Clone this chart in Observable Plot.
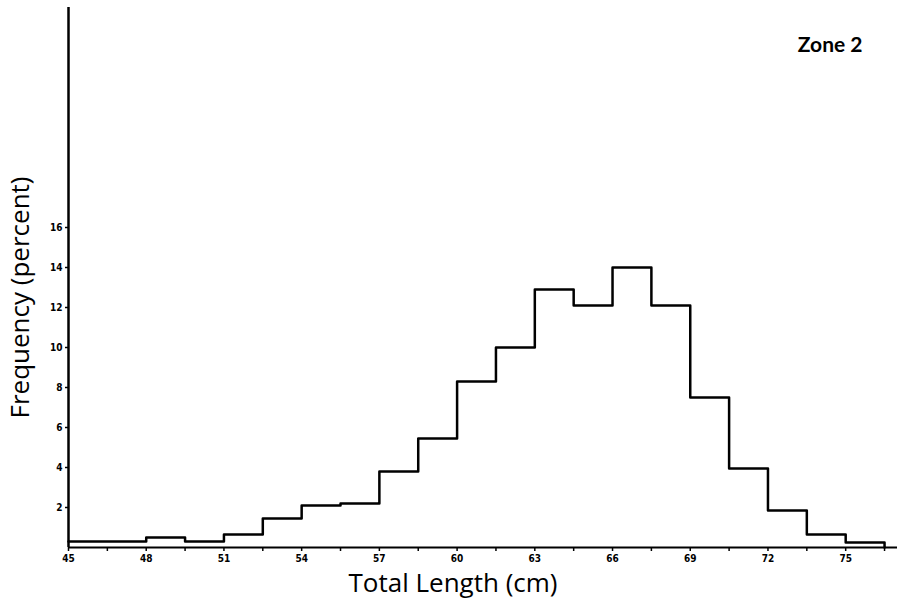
<!DOCTYPE html>
<html>
<head>
<meta charset="utf-8">
<script src="https://cdn.jsdelivr.net/npm/d3@7"></script>
<script src="https://cdn.jsdelivr.net/npm/@observablehq/plot@0.6"></script>
<style>
  html, body { margin: 0; padding: 0; background: #fff; }
  #chart { position: relative; width: 897px; height: 607px; }
</style>
</head>
<body>
<div id="chart"></div>
<script>
// Bin lower edges (cm), bin width 1.5 cm
const binStarts = [45, 46.5, 48, 49.5, 51, 52.5, 54, 55.5, 57, 58.5, 60, 61.5, 63, 64.5, 66, 67.5, 69, 70.5, 72, 73.5, 75];
const binWidth = 1.5;
// Frequency (percent) per bin
const frequency = [0.3, 0.3, 0.5, 0.3, 0.65, 1.45, 2.1, 2.2, 3.8, 5.45, 8.3, 10.0, 12.9, 12.1, 14.0, 12.1, 7.5, 3.95, 1.85, 0.65, 0.25];
const xMajorTicks = [45, 48, 51, 54, 57, 60, 63, 66, 69, 72, 75];
const xMinorTicks = [46.5, 49.5, 52.5, 55.5, 58.5, 61.5, 64.5, 67.5, 70.5, 73.5, 76.5];
const yTicks = [2, 4, 6, 8, 10, 12, 14, 16];
const zoneTitle = "Zone 2";
const xTitle = "Total Length (cm)";
const yTitle = "Frequency (percent)";

// Step outline table built from the arrays
const lastEnd = binStarts[binStarts.length - 1] + binWidth;
const outline = binStarts.map((x, i) => ({x, y: frequency[i]}));
outline.push({x: lastEnd, y: frequency[frequency.length - 1]});
outline.push({x: lastEnd, y: 0});

const tickFont = "'DejaVu Sans Condensed', 'DejaVu Sans', sans-serif";

const chart = Plot.plot({
  width: 897,
  height: 607,
  marginLeft: 68,
  marginRight: 0,
  marginTop: 7,
  marginBottom: 60,
  style: {background: "#fff", color: "#000", fontFamily: "'Open Sans', sans-serif"},
  x: {domain: [45, 77], label: null},
  y: {domain: [0, 27], label: null},
  marks: [
    Plot.axisX({ticks: xMinorTicks, tickSize: 4, tickFormat: () => "", strokeWidth: 1.5}),
    Plot.axisX({ticks: xMajorTicks, tickSize: 4, tickPadding: 3, strokeWidth: 1.5,
      fontSize: 10, fontWeight: "bold", fontFamily: tickFont, tickFormat: d => String(d)}),
    Plot.axisY({ticks: yTicks, tickSize: 3, tickPadding: 3, strokeWidth: 1.5,
      fontSize: 10, fontWeight: "bold", fontFamily: tickFont, tickFormat: d => String(d)}),
    Plot.ruleY([0], {stroke: "#000", strokeWidth: 2}),
    Plot.ruleX([45], {stroke: "#000", strokeWidth: 2.5}),
    Plot.line(outline, {x: "x", y: "y", curve: "step-after", stroke: "#000", strokeWidth: 2.5}),
    Plot.text([zoneTitle], {text: d => d, frameAnchor: "top-right", dx: -35, dy: 30,
      fontSize: 21, fontWeight: "bold", fontFamily: "Lato, sans-serif", fill: "#000"}),
    Plot.text([xTitle], {text: d => d, frameAnchor: "bottom", dx: -30, dy: 44,
      fontSize: 26, fontFamily: "'Open Sans', sans-serif", fill: "#000"}),
    Plot.text([yTitle], {text: d => d, frameAnchor: "left", textAnchor: "middle", dx: -48, dy: 20,
      rotate: -90, fontSize: 26, fontFamily: "'Open Sans', sans-serif", fill: "#000"})
  ]
});
document.getElementById("chart").appendChild(chart);
</script>
</body>
</html>
